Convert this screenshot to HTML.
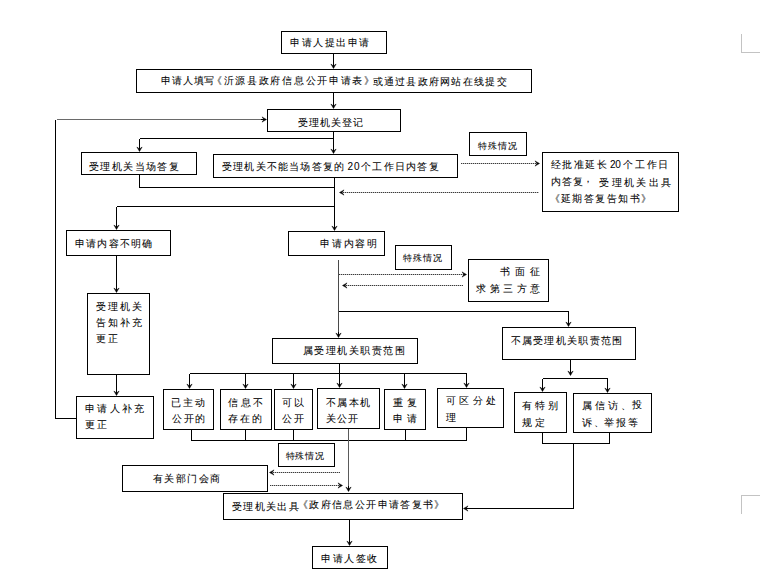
<!DOCTYPE html>
<html><head><meta charset="utf-8"><style>
html,body{margin:0;padding:0;background:#fff;width:769px;height:579px;overflow:hidden}
.t{position:absolute;white-space:pre;font-family:"Liberation Sans",sans-serif;color:#000;line-height:1;-webkit-text-stroke:0.05px #000}
svg{position:absolute;left:0;top:0}
svg rect, svg path{fill:none;stroke:#000;stroke-width:1}
svg rect, svg path:not(.ah){shape-rendering:crispEdges}
svg path.ah{fill:#000;stroke:#000;stroke-width:0.5}
svg path.dt{stroke-dasharray:1 1;stroke:#3a3a3a}
svg path.dg{stroke:#bdbdbd}
svg path.cm{stroke:#c3c3c3}
</style></head><body>
<svg width="769" height="579" viewBox="0 0 769 579"><rect x="281.5" y="31.5" width="105" height="22"/>
<rect x="136.5" y="69.5" width="395" height="23"/>
<rect x="267.5" y="109.5" width="133" height="22"/>
<rect x="81.5" y="152.5" width="115" height="22"/>
<rect x="213.5" y="154.5" width="244" height="23"/>
<rect x="469.5" y="132.5" width="57" height="23"/>
<rect x="542.5" y="152.5" width="136" height="59"/>
<rect x="66.5" y="230.5" width="104" height="25"/>
<rect x="288.5" y="231.5" width="96" height="24"/>
<rect x="395.5" y="245.5" width="56" height="24"/>
<rect x="468.5" y="259.5" width="80" height="42"/>
<rect x="87.5" y="293.5" width="62" height="81"/>
<rect x="76.5" y="396.5" width="77" height="42"/>
<rect x="272.5" y="338.5" width="145" height="25"/>
<rect x="502.5" y="327.5" width="133" height="32"/>
<rect x="163.5" y="389.5" width="50" height="40"/>
<rect x="220.5" y="389.5" width="51" height="40"/>
<rect x="274.5" y="389.5" width="38" height="40"/>
<rect x="317.5" y="388.5" width="62" height="40"/>
<rect x="384.5" y="389.5" width="41" height="40"/>
<rect x="437.5" y="388.5" width="66" height="39"/>
<rect x="514.5" y="392.5" width="52" height="40"/>
<rect x="573.5" y="393.5" width="78" height="39"/>
<rect x="278.5" y="443.5" width="56" height="23"/>
<rect x="122.5" y="465.5" width="145" height="26"/>
<rect x="223.5" y="493.5" width="239" height="26"/>
<rect x="312.5" y="546.5" width="75" height="22"/>
<path d="M55.5 418.5 L76.5 418.5"/>
<path d="M55.5 418.5 L55.5 119.5"/>
<path d="M56.5 119.5 L262.5 119.5" style="stroke:#6a6a6a"/>
<path d="M333.5 53.5 L333.5 64.5"/>
<path d="M333.5 92.5 L333.5 104.5"/>
<path d="M333.5 131.5 L333.5 149.5"/>
<path d="M139.5 138.5 L333.5 138.5"/>
<path d="M139.5 138.5 L139.5 147.5"/>
<path d="M139.5 174.5 L139.5 187.5"/>
<path d="M139.5 187.5 L334.5 187.5"/>
<path d="M334.5 177.5 L334.5 225.5"/>
<path d="M116.5 206.5 L334.5 206.5"/>
<path d="M116.5 206.5 L116.5 225.5"/>
<path d="M116.5 255.5 L116.5 288.5"/>
<path d="M116.5 374.5 L116.5 391.5"/>
<path d="M338.5 259.5 L338.5 333.5" style="stroke:#4a4a4a"/>
<path d="M338.5 311.5 L568.5 311.5"/>
<path d="M568.5 311.5 L568.5 322.5"/>
<path d="M339.5 363.5 L339.5 383.5"/>
<path d="M189.5 373.5 L466.5 373.5"/>
<path d="M189.5 373.5 L189.5 384.5"/>
<path d="M245.5 373.5 L245.5 384.5"/>
<path d="M293.5 373.5 L293.5 384.5"/>
<path d="M404.5 373.5 L404.5 384.5"/>
<path d="M466.5 373.5 L466.5 383.5"/>
<path d="M191.5 429.5 L191.5 440.5"/>
<path d="M245.5 429.5 L245.5 440.5"/>
<path d="M293.5 429.5 L293.5 440.5"/>
<path d="M405.5 429.5 L405.5 440.5"/>
<path d="M466.5 427.5 L466.5 440.5"/>
<path d="M191.5 440.5 L466.5 440.5"/>
<path d="M348.5 428.5 L348.5 486.5" style="stroke:#5a5a5a"/>
<path d="M570.5 359.5 L570.5 370.5"/>
<path d="M542.5 378.5 L607.5 378.5"/>
<path d="M542.5 378.5 L542.5 387.5"/>
<path d="M607.5 378.5 L607.5 388.5"/>
<path d="M542.5 432.5 L542.5 443.5"/>
<path d="M609.5 432.5 L609.5 443.5"/>
<path d="M542.5 443.5 L609.5 443.5"/>
<path d="M573.5 443.5 L573.5 508.5"/>
<path d="M573.5 508.5 L468.5 508.5"/>
<path d="M349.5 519.5 L349.5 540.5"/>
<path class="dg" d="M461 163.5 L538 163.5"/>
<path class="dt" d="M461 163.5 L538 163.5"/>
<path class="dg" d="M341 192.5 L539 192.5"/>
<path class="dt" d="M341 192.5 L539 192.5"/>
<path class="dg" d="M339 274.5 L465 274.5"/>
<path class="dt" d="M339 274.5 L465 274.5"/>
<path class="dg" d="M344 285.5 L463 285.5"/>
<path class="dt" d="M344 285.5 L463 285.5"/>
<path class="dg" d="M271 472.5 L340 472.5"/>
<path class="dt" d="M271 472.5 L340 472.5"/>
<path class="dg" d="M270 485.5 L341 485.5"/>
<path class="dt" d="M270 485.5 L341 485.5"/>
<path class="ah" d="M330.9 64.0 L333.5 68.5 L336.1 64.0 L333.5 66.0 Z"/>
<path class="al" d="M333.5 62.5 L333.5 67.5"/>
<path class="ah" d="M330.9 104.0 L333.5 108.5 L336.1 104.0 L333.5 106.0 Z"/>
<path class="al" d="M333.5 102.5 L333.5 107.5"/>
<path class="ah" d="M330.9 149.0 L333.5 153.5 L336.1 149.0 L333.5 151.0 Z"/>
<path class="al" d="M333.5 147.5 L333.5 152.5"/>
<path class="ah" d="M136.9 147.0 L139.5 151.5 L142.1 147.0 L139.5 149.0 Z"/>
<path class="al" d="M139.5 145.5 L139.5 150.5"/>
<path class="ah" d="M331.9 226.0 L334.5 230.5 L337.1 226.0 L334.5 228.0 Z"/>
<path class="al" d="M334.5 224.5 L334.5 229.5"/>
<path class="ah" d="M113.9 225.0 L116.5 229.5 L119.1 225.0 L116.5 227.0 Z"/>
<path class="al" d="M116.5 223.5 L116.5 228.5"/>
<path class="ah" d="M113.9 288.0 L116.5 292.5 L119.1 288.0 L116.5 290.0 Z"/>
<path class="al" d="M116.5 286.5 L116.5 291.5"/>
<path class="ah" d="M113.9 391.0 L116.5 395.5 L119.1 391.0 L116.5 393.0 Z"/>
<path class="al" d="M116.5 389.5 L116.5 394.5"/>
<path class="ah" d="M335.9 333.0 L338.5 337.5 L341.1 333.0 L338.5 335.0 Z"/>
<path class="al" d="M338.5 331.5 L338.5 336.5"/>
<path class="ah" d="M565.9 322.0 L568.5 326.5 L571.1 322.0 L568.5 324.0 Z"/>
<path class="al" d="M568.5 320.5 L568.5 325.5"/>
<path class="ah" d="M336.9 383.0 L339.5 387.5 L342.1 383.0 L339.5 385.0 Z"/>
<path class="al" d="M339.5 381.5 L339.5 386.5"/>
<path class="ah" d="M186.9 384.0 L189.5 388.5 L192.1 384.0 L189.5 386.0 Z"/>
<path class="al" d="M189.5 382.5 L189.5 387.5"/>
<path class="ah" d="M242.9 384.0 L245.5 388.5 L248.1 384.0 L245.5 386.0 Z"/>
<path class="al" d="M245.5 382.5 L245.5 387.5"/>
<path class="ah" d="M290.9 384.0 L293.5 388.5 L296.1 384.0 L293.5 386.0 Z"/>
<path class="al" d="M293.5 382.5 L293.5 387.5"/>
<path class="ah" d="M401.9 384.0 L404.5 388.5 L407.1 384.0 L404.5 386.0 Z"/>
<path class="al" d="M404.5 382.5 L404.5 387.5"/>
<path class="ah" d="M463.9 383.0 L466.5 387.5 L469.1 383.0 L466.5 385.0 Z"/>
<path class="al" d="M466.5 381.5 L466.5 386.5"/>
<path class="ah" d="M345.9 487.0 L348.5 491.5 L351.1 487.0 L348.5 489.0 Z"/>
<path class="al" d="M348.5 485.5 L348.5 490.5"/>
<path class="ah" d="M567.9 371.0 L570.5 375.5 L573.1 371.0 L570.5 373.0 Z"/>
<path class="al" d="M570.5 369.5 L570.5 374.5"/>
<path class="ah" d="M539.9 387.0 L542.5 391.5 L545.1 387.0 L542.5 389.0 Z"/>
<path class="al" d="M542.5 385.5 L542.5 390.5"/>
<path class="ah" d="M604.9 388.0 L607.5 392.5 L610.1 388.0 L607.5 390.0 Z"/>
<path class="al" d="M607.5 386.5 L607.5 391.5"/>
<path class="ah" d="M346.9 541.0 L349.5 545.5 L352.1 541.0 L349.5 543.0 Z"/>
<path class="al" d="M349.5 539.5 L349.5 544.5"/>
<path class="ah" d="M262.0 116.9 L266.5 119.5 L262.0 122.1 L264.0 119.5 Z"/>
<path class="al" d="M260.5 119.5 L265.5 119.5"/>
<path class="ah" d="M468.0 505.9 L463.5 508.5 L468.0 511.1 L466.0 508.5 Z"/>
<path class="al" d="M469.5 508.5 L464.5 508.5"/>
<path class="ah" d="M535.0 160.9 L539.5 163.5 L535.0 166.1 L537.0 163.5 Z"/>
<path class="ah" d="M344.0 189.9 L339.5 192.5 L344.0 195.1 L342.0 192.5 Z"/>
<path class="ah" d="M462.0 271.9 L466.5 274.5 L462.0 277.1 L464.0 274.5 Z"/>
<path class="ah" d="M347.0 282.9 L342.5 285.5 L347.0 288.1 L345.0 285.5 Z"/>
<path class="ah" d="M274.0 469.9 L269.5 472.5 L274.0 475.1 L272.0 472.5 Z"/>
<path class="ah" d="M338.0 482.9 L342.5 485.5 L338.0 488.1 L340.0 485.5 Z"/><path class="cm" d="M741.5 34 L741.5 52.5 L760 52.5"/><path class="cm" d="M741.5 514 L741.5 495.5 L760 495.5"/></svg>
<div class="t" style="left:290.0px;top:38px;font-size:10px;letter-spacing:1.5px">申请人提出申请</div><div class="t" style="left:161.0px;top:76px;font-size:10px;letter-spacing:0.86px">申请人填写</div><div class="t" style="left:212.0px;top:76px;font-size:10px;letter-spacing:1.7px">《沂源县政府信息公开申请表》</div><div class="t" style="left:372.5px;top:77px;font-size:10px;letter-spacing:1.28px">或通过县政府网站在线提交</div><div class="t" style="left:297.5px;top:118px;font-size:10px;letter-spacing:1.2px">受理机关登记</div><div class="t" style="left:89.0px;top:162px;font-size:10px;letter-spacing:1.41px">受理机关当场答复</div><div class="t" style="left:222.0px;top:162px;font-size:10px;letter-spacing:1.2px">受理机关不能当场答复的</div><div class="t" style="left:347.6px;top:162px;font-size:10px;letter-spacing:0.8px">20</div><div class="t" style="left:361.1px;top:162px;font-size:10px;letter-spacing:1.26px">个工作日内答复</div><div class="t" style="left:477.5px;top:142px;font-size:9px;letter-spacing:1.0px">特殊情况</div><div class="t" style="left:550.6px;top:160px;font-size:10px;letter-spacing:1.5px">经批准延长</div><div class="t" style="left:609.9px;top:160px;font-size:10px;letter-spacing:-0.2px">20</div><div class="t" style="left:623.2px;top:160px;font-size:10px;letter-spacing:1.75px">个工作日</div><div class="t" style="left:550.6px;top:177px;font-size:10px;letter-spacing:1.2px">内答复</div><div class="t" style="left:582.6px;top:174px;font-size:10px;letter-spacing:0px">，</div><div class="t" style="left:599.2px;top:178px;font-size:10px;letter-spacing:2.4px">受理机关出具</div><div class="t" style="left:549.5px;top:194px;font-size:10px;letter-spacing:1.47px">《延期答复告知书》</div><div class="t" style="left:75.0px;top:239px;font-size:10px;letter-spacing:1.17px">申请内容不明确</div><div class="t" style="left:320.0px;top:239px;font-size:10px;letter-spacing:1.76px">申请内容明</div><div class="t" style="left:403.0px;top:254px;font-size:9px;letter-spacing:1.0px">特殊情况</div><div class="t" style="left:499.5px;top:267px;font-size:10px;letter-spacing:5.0px">书面征</div><div class="t" style="left:476.0px;top:284px;font-size:10px;letter-spacing:3.5px">求第三方意</div><div class="t" style="left:95.5px;top:302px;font-size:10px;letter-spacing:2.0px">受理机关</div><div class="t" style="left:95.5px;top:318px;font-size:10px;letter-spacing:2.0px">告知补充</div><div class="t" style="left:95.5px;top:334px;font-size:10px;letter-spacing:2.0px">更正</div><div class="t" style="left:85.0px;top:404px;font-size:10px;letter-spacing:2.25px">申请人补充</div><div class="t" style="left:85.0px;top:420px;font-size:10px;letter-spacing:2.0px">更正</div><div class="t" style="left:302.5px;top:346px;font-size:10px;letter-spacing:1.5px">属受理机关职责范围</div><div class="t" style="left:510.5px;top:336px;font-size:10px;letter-spacing:1.33px">不属受理机关职责范围</div><div class="t" style="left:171.0px;top:398px;font-size:10px;letter-spacing:2.0px">已主动</div><div class="t" style="left:172.0px;top:414px;font-size:10px;letter-spacing:1.5px">公开的</div><div class="t" style="left:228.0px;top:398px;font-size:10px;letter-spacing:2.5px">信息不</div><div class="t" style="left:228.0px;top:414px;font-size:10px;letter-spacing:2.0px">存在的</div><div class="t" style="left:281.75px;top:398px;font-size:10px;letter-spacing:2.0px">可以</div><div class="t" style="left:281.75px;top:414px;font-size:10px;letter-spacing:2.0px">公开</div><div class="t" style="left:325.5px;top:398px;font-size:10px;letter-spacing:1.66px">不属本机</div><div class="t" style="left:325.5px;top:414px;font-size:10px;letter-spacing:1.0px">关公开</div><div class="t" style="left:392.5px;top:398px;font-size:10px;letter-spacing:4.0px">重复</div><div class="t" style="left:392.5px;top:414px;font-size:10px;letter-spacing:4.0px">申请</div><div class="t" style="left:446.0px;top:396px;font-size:10px;letter-spacing:3.33px">可区分处</div><div class="t" style="left:446.0px;top:413px;font-size:10px;letter-spacing:0px">理</div><div class="t" style="left:522.0px;top:401px;font-size:10px;letter-spacing:3.0px">有特别</div><div class="t" style="left:522.0px;top:418px;font-size:10px;letter-spacing:3.0px">规定</div><div class="t" style="left:581.7px;top:401px;font-size:10px;letter-spacing:3.0px">属信访、</div><div class="t" style="left:632.4px;top:400px;font-size:10px;letter-spacing:0px">投</div><div class="t" style="left:581.7px;top:418px;font-size:10px;letter-spacing:2.6px">诉、</div><div class="t" style="left:604.2px;top:418px;font-size:10px;letter-spacing:1.8px">举报等</div><div class="t" style="left:285.75px;top:452px;font-size:9px;letter-spacing:0.65px">特殊情况</div><div class="t" style="left:152.5px;top:474px;font-size:10px;letter-spacing:1.6px">有关部门会商</div><div class="t" style="left:232.0px;top:502px;font-size:10px;letter-spacing:1.32px">受理机关出具</div><div class="t" style="left:298.0px;top:500px;font-size:10px;letter-spacing:1.36px">《政府信息公开申请答复书》</div><div class="t" style="left:321.0px;top:554px;font-size:10px;letter-spacing:1.52px">申请人签收</div>
</body></html>
